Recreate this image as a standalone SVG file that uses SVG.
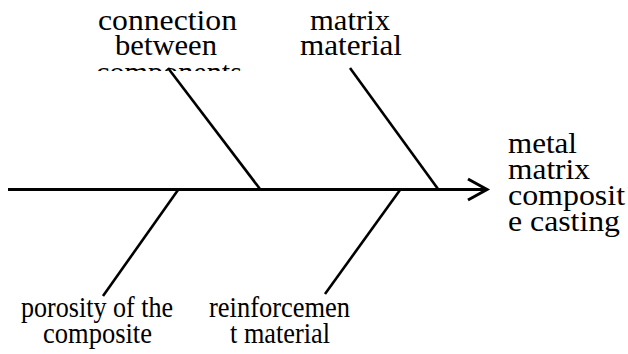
<svg xmlns="http://www.w3.org/2000/svg" width="628" height="354" viewBox="0 0 628 354">
<style>
text{font-family:"Liberation Serif","Times New Roman",serif;font-size:30px;fill:#000}
.c{text-anchor:middle}
.ln{stroke:#000;stroke-width:2.6;fill:none;stroke-linecap:butt}
.sp{stroke:#000;stroke-width:3;fill:none}
</style>
<defs>
<clipPath id="clipTop"><rect x="0" y="0" width="628" height="71"/></clipPath>
</defs>
<rect width="628" height="354" fill="#fff"/>
<g id="connectors">
<line class="sp" x1="8" y1="189.5" x2="486" y2="189.5"/>
<polyline class="sp" points="468,179 487,189.5 468,200"/>
<line class="ln" x1="168" y1="68" x2="260" y2="189"/>
<line class="ln" x1="350" y1="68" x2="438" y2="189"/>
<line class="ln" x1="178" y1="190" x2="103" y2="296"/>
<line class="ln" x1="400" y1="190" x2="325" y2="294"/>
</g>
<g id="effect">
<text x="508" y="153" textLength="69" lengthAdjust="spacingAndGlyphs">metal</text>
<text x="508" y="179" textLength="82" lengthAdjust="spacingAndGlyphs">matrix</text>
<text x="508" y="205" textLength="117" lengthAdjust="spacingAndGlyphs">composit</text>
<text x="508" y="231" textLength="112" lengthAdjust="spacingAndGlyphs">e casting</text>
</g>
<g id="cause-connection">
<text class="c" x="167.5" y="30" textLength="139" lengthAdjust="spacingAndGlyphs">connection</text>
<text class="c" x="166" y="55" textLength="102" lengthAdjust="spacingAndGlyphs">between</text>
<text class="c" x="169" y="82" textLength="146" lengthAdjust="spacingAndGlyphs" clip-path="url(#clipTop)">components</text>
</g>
<g id="cause-matrix">
<text class="c" x="350" y="30" textLength="80" lengthAdjust="spacingAndGlyphs">matrix</text>
<text class="c" x="351" y="55" textLength="102" lengthAdjust="spacingAndGlyphs">material</text>
</g>
<g id="cause-porosity">
<text class="c" x="97" y="317" textLength="152" lengthAdjust="spacingAndGlyphs">porosity of the</text>
<text class="c" x="97.5" y="343" textLength="109" lengthAdjust="spacingAndGlyphs">composite</text>
</g>
<g id="cause-reinforcement">
<text class="c" x="279.5" y="317" textLength="141" lengthAdjust="spacingAndGlyphs">reinforcemen</text>
<text class="c" x="280" y="343" textLength="100" lengthAdjust="spacingAndGlyphs">t material</text>
</g>
</svg>
